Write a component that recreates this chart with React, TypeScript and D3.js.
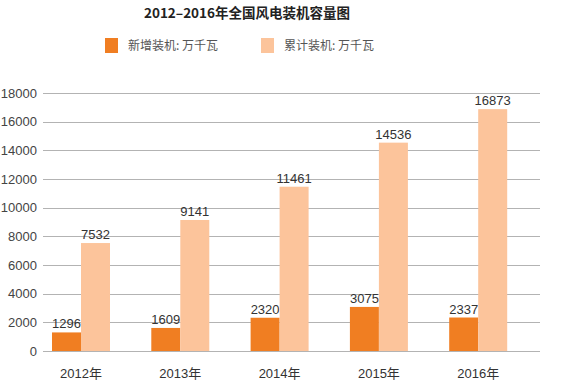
import React from "react";
import * as d3 from "d3";

const years = ["2012年", "2013年", "2014年", "2015年", "2016年"];
const newInstalled = [1296, 1609, 2320, 3075, 2337];
const cumulative = [7532, 9141, 11461, 14536, 16873];
const yTicks = [0, 2000, 4000, 6000, 8000, 10000, 12000, 14000, 16000, 18000];
const seriesNames = ["新增装机: 万千瓦", "累计装机: 万千瓦"];
const title = "2012–2016年全国风电装机容量图";

const W = 575;
const H = 389;
const colors = ["#F07E22", "#FCC49B"];
const numFont = "'Liberation Sans', Arial, 'Noto Sans CJK SC', sans-serif";
const cjkFont = "'Noto Sans CJK SC', 'Liberation Sans', sans-serif";

export default function App() {
  const x = d3.scaleBand<string>().domain(years).range([52, 507.2]).paddingInner(0.416).paddingOuter(0);
  const inner = d3.scaleBand<string>().domain(["new", "cum"]).range([0, x.bandwidth()]).padding(0);
  const y = d3.scaleLinear().domain([0, 18000]).range([351, 93]);
  const gridX0 = 43;
  const gridX1 = 540;

  const series = [
    { key: "new", values: newInstalled, color: colors[0] },
    { key: "cum", values: cumulative, color: colors[1] },
  ];

  return (
    <svg width={W} height={H} style={{ position: "absolute", left: 0, top: 0, background: "#fff" }}>
      <rect width={W} height={H} fill="#fff" />
      <text x={247} y={18} textAnchor="middle" fontFamily={cjkFont} fontWeight="bold" fontSize={13.5} fill="#222">
        {title}
      </text>
      {/* legend */}
      {seriesNames.map((name, i) => {
        const lx = i === 0 ? 105 : 261;
        return (
          <g key={name}>
            <rect x={lx} y={38} width={13} height={15} fill={colors[i]} />
            <text x={lx + 23} y={49.5} fontFamily={cjkFont} fontSize={12} fill="#555">
              {name}
            </text>
          </g>
        );
      })}
      {/* grid */}
      {yTicks.map((t) => (
        <g key={t}>
          <line x1={gridX0} x2={gridX1} y1={Math.round(y(t)) + 0.5} y2={Math.round(y(t)) + 0.5} stroke="#b3b3b3" strokeWidth={1} />
          <text x={37} y={y(t) + 4.5} textAnchor="end" fontFamily={numFont} fontSize={13} fill="#444">
            {t}
          </text>
        </g>
      ))}
      {/* bars */}
      {years.map((yr, i) => (
        <g key={yr} transform={`translate(${x(yr)},0)`}>
          {series.map((s) => {
            const v = s.values[i];
            const bx = inner(s.key)!;
            const bw = inner.bandwidth();
            return (
              <g key={s.key}>
                <rect x={bx} y={y(v)} width={bw} height={y(0) - y(v)} fill={s.color} />
                <text x={bx + bw / 2} y={y(v) - 4} textAnchor="middle" fontFamily={numFont} fontSize={13} fill="#333">
                  {v}
                </text>
              </g>
            );
          })}
          <text x={x.bandwidth() / 2} y={378} textAnchor="middle" fontFamily={numFont} fontSize={13} fill="#333">
            {yr}
          </text>
        </g>
      ))}
    </svg>
  );
}
